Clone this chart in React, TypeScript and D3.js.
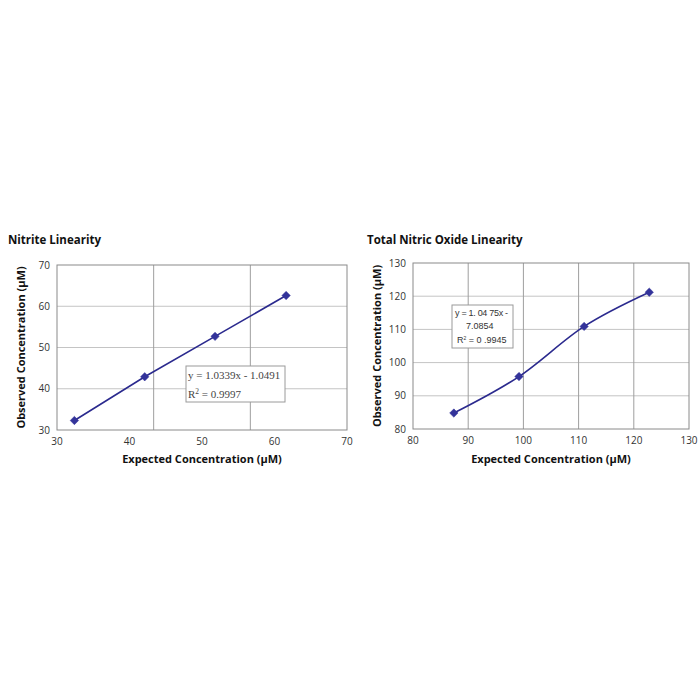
import React from "react";
import * as d3 from "d3";

const nitriteX = [32.4, 42.1, 51.8, 61.6];
const nitriteY = [32.3, 42.9, 52.7, 62.6];
const nitriteTicks = [30, 40, 50, 60, 70];
const nitriteVGrid = [30 + 40 / 3, 30 + 80 / 3];
const nitriteHGrid = [40, 50, 60];
const nitriteEq = ["y = 1.0339x - 1.0491", "R2 = 0.9997"];

const noX = [87.4, 99.2, 111.0, 122.8];
const noY = [84.8, 95.8, 110.9, 121.2];
const noTicks = [80, 90, 100, 110, 120, 130];
const noVGrid = [90, 100, 110, 120];
const noHGrid = [90, 100, 110, 120];

const titles = ["Nitrite Linearity", "Total Nitric Oxide Linearity"];
const xTitle = "Expected Concentration (µM)";
const yTitle = "Observed Concentration (µM)";

const SANS = "'Open Sans', 'Noto Sans', sans-serif";
const EQ = "'Liberation Sans', sans-serif";
const SERIF = "'Liberation Serif', 'DejaVu Serif', serif";
const LINE = "#2b2a8e";
const MARK = "#33339a";

type PanelProps = {
  left: number; right: number; top: number; bottom: number;
  xs: number[]; ys: number[]; ticks: number[];
  vGrid: number[]; hGrid: number[]; smooth: boolean;
  title: string; titleX: number; children?: React.ReactNode;
};

function Panel(p: PanelProps) {
  const lo = p.ticks[0], hi = p.ticks[p.ticks.length - 1];
  const x = d3.scaleLinear().domain([lo, hi]).range([p.left, p.right]);
  const y = d3.scaleLinear().domain([lo, hi]).range([p.bottom, p.top]);
  const pts: [number, number][] = p.xs.map((v, i) => [x(v), y(p.ys[i])]);
  const line = d3.line().curve(p.smooth ? d3.curveCatmullRom.alpha(0) : d3.curveLinear);
  const r = 4.2;
  const diamond = `M0,${-r}L${r},0L0,${r}L${-r},0Z`;
  const cx = (p.left + p.right) / 2;
  const cy = (p.top + p.bottom) / 2;
  return (
    <g>
      <text x={p.titleX} y={244} fontFamily={SANS} fontWeight={700} fontSize={11.5} fill="#111">{p.title}</text>
      {p.hGrid.map((g, i) => (
        <line key={"h" + i} x1={p.left} x2={p.right} y1={y(g)} y2={y(g)} stroke="#c4c4c4" strokeWidth={1} />
      ))}
      {p.vGrid.map((g, i) => (
        <line key={"v" + i} x1={x(g)} x2={x(g)} y1={p.top} y2={p.bottom} stroke="#9e9e9e" strokeWidth={1} />
      ))}
      <rect x={p.left} y={p.top} width={p.right - p.left} height={p.bottom - p.top} fill="none" stroke="#8a8a8a" strokeWidth={1} />
      {p.ticks.map((t, i) => (
        <text key={"xt" + i} x={x(t)} y={p.bottom + 15} textAnchor="middle" fontFamily={SANS} fontSize={10} fill="#333">{t}</text>
      ))}
      {p.ticks.map((t, i) => (
        <text key={"yt" + i} x={p.left - 7} y={y(t) + 3.5} textAnchor="end" fontFamily={SANS} fontSize={10} fill="#333">{t}</text>
      ))}
      <text x={cx} y={463} textAnchor="middle" fontFamily={SANS} fontWeight={700} fontSize={11} fill="#111">{xTitle}</text>
      <text transform={`translate(${p.left - 32},${cy}) rotate(-90)`} textAnchor="middle" fontFamily={SANS} fontWeight={700} fontSize={11} fill="#111">{yTitle}</text>
      <path d={line(pts) || ""} fill="none" stroke={LINE} strokeWidth={1.6} />
      {pts.map((pt, i) => (
        <path key={"m" + i} d={diamond} transform={`translate(${pt[0]},${pt[1]})`} fill={MARK} stroke={MARK} strokeWidth={0.5} />
      ))}
      {p.children}
    </g>
  );
}

export default function App() {
  return (
    <svg width={700} height={700} style={{ position: "absolute", left: 0, top: 0, background: "#fff" }}>
      <rect width={700} height={700} fill="#fff" />
      <Panel left={57} right={347} top={265} bottom={430} xs={nitriteX} ys={nitriteY} ticks={nitriteTicks}
        vGrid={nitriteVGrid} hGrid={nitriteHGrid} smooth={false} title={titles[0]} titleX={8}>
        <rect x={186} y={366} width={99} height={36} fill="#fff" stroke="#9a9a9a" strokeWidth={1} />
        <text x={188} y={379} fontFamily={SERIF} fontSize={11} fill="#444">{nitriteEq[0]}</text>
        <text x={188} y={398} fontFamily={SERIF} fontSize={11} fill="#444">
          R<tspan dy={-4} fontSize={7.5}>2</tspan><tspan dy={4}> = 0.9997</tspan>
        </text>
      </Panel>
      <Panel left={413} right={689} top={263} bottom={429} xs={noX} ys={noY} ticks={noTicks}
        vGrid={noVGrid} hGrid={noHGrid} smooth={true} title={titles[1]} titleX={367}>
        <rect x={452} y={305} width={61} height={43} fill="#fff" stroke="#9a9a9a" strokeWidth={1} />
        <text x={455} y={316} fontFamily={EQ} fontSize={9} letterSpacing={-0.3} fill="#333" style={{ whiteSpace: "pre" }}>y = 1. 04 75x -</text>
        <text x={466} y={329} fontFamily={EQ} fontSize={9} fill="#333">7.0854</text>
        <text x={457} y={343} fontFamily={EQ} fontSize={9} fill="#333" style={{ whiteSpace: "pre" }}>
          R<tspan dy={-3} fontSize={5}>2</tspan><tspan dy={3}> = 0 .9945</tspan>
        </text>
      </Panel>
    </svg>
  );
}
